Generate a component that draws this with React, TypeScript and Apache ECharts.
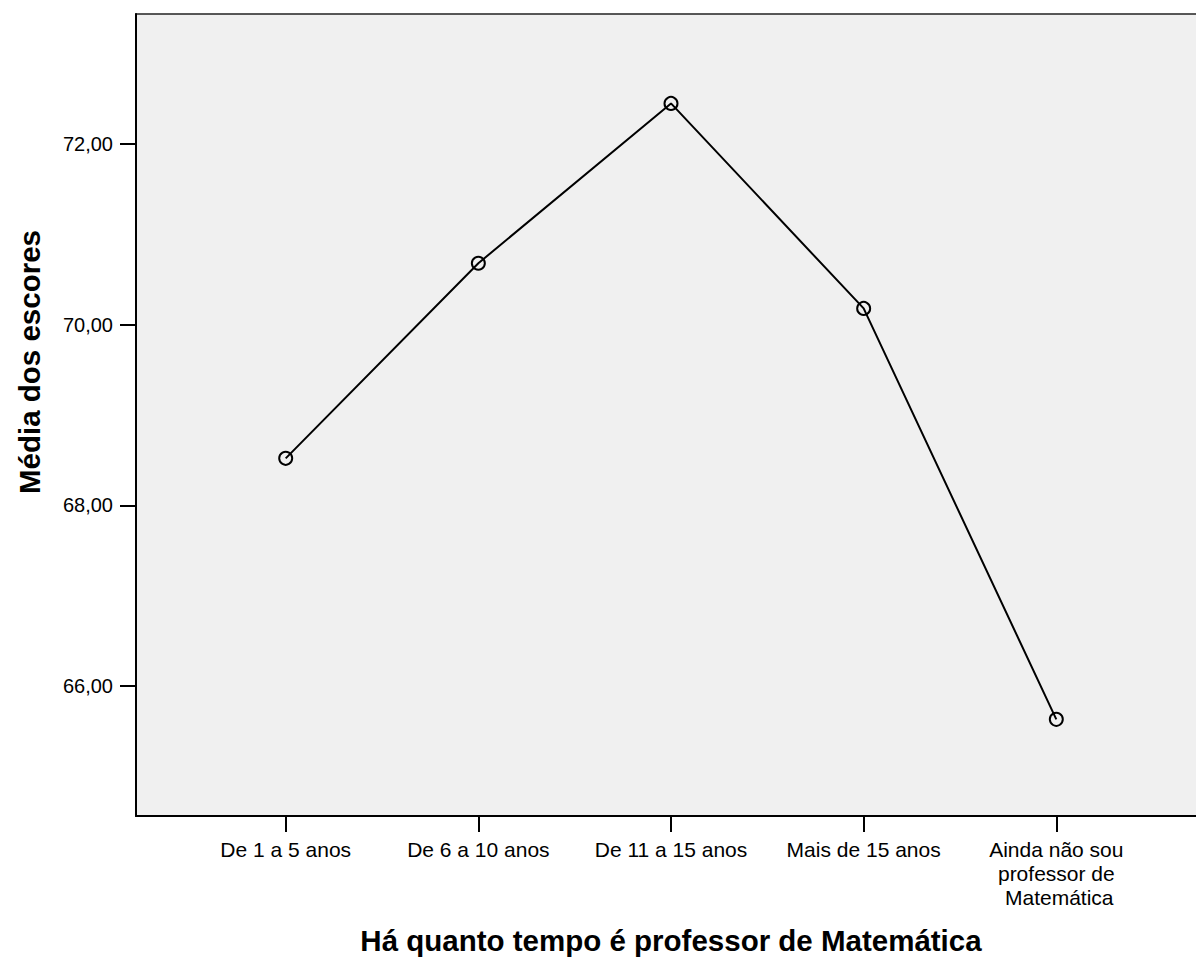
import React, { useEffect, useRef } from "react";
import * as echarts from "echarts";

const categories: string[] = [
  "De 1 a 5 anos",
  "De 6 a 10 anos",
  "De 11 a 15 anos",
  "Mais de 15 anos",
  "Ainda não sou\nprofessor de\n Matemática",
];
const meanScores: number[] = [68.52, 70.68, 72.45, 70.18, 65.63];
const yTicks: number[] = [66, 68, 70, 72];
const xTicks: number[] = [0, 1, 2, 3, 4];

const xTitle = "Há quanto tempo é professor de Matemática";
const yTitle = "Média dos escores";

const FONT = '"Liberation Sans", Arial, Helvetica, sans-serif';

export default function App() {
  const ref = useRef<HTMLDivElement>(null);

  useEffect(() => {
    if (!ref.current) return;
    const chart = echarts.init(ref.current, undefined, { renderer: "svg" });
    const option: any = {
      animation: false,
      backgroundColor: "#ffffff",
      textStyle: { fontFamily: FONT, color: "#000" },
      grid: {
        left: 136,
        top: 14,
        right: 10,
        bottom: 143,
        show: true,
        backgroundColor: "#F0F0F0",
        borderColor: "#222",
        borderWidth: 1.5,
      },
      graphic: [
        {
          type: "text",
          x: 29,
          y: 362,
          rotation: Math.PI / 2,
          style: {
            text: yTitle,
            fontSize: 29.5,
            fontWeight: "bold",
            fontFamily: FONT,
            fill: "#000",
            align: "center",
            verticalAlign: "middle",
          },
        },
      ],
      xAxis: {
        type: "value",
        min: -0.777,
        max: 4.777,
        name: xTitle,
        nameLocation: "middle",
        nameGap: 109,
        nameTextStyle: { fontSize: 29.5, fontWeight: "bold", color: "#000", fontFamily: FONT },
        axisLine: { show: true, onZero: false, lineStyle: { color: "#000", width: 2 } },
        axisTick: { show: true, length: 16, customValues: xTicks, lineStyle: { color: "#000", width: 2 } },
        axisLabel: {
          customValues: xTicks,
          formatter: (v: number) => categories[Math.round(v)] ?? "",
          margin: 21,
          fontSize: 21,
          lineHeight: 24,
          color: "#000",
          fontFamily: FONT,
          align: "center",
        },
        splitLine: { show: false },
      },
      yAxis: {
        type: "value",
        min: 64.56,
        max: 73.44,
        axisLine: { show: true, onZero: false, lineStyle: { color: "#000", width: 2 } },
        axisTick: { show: true, length: 16, customValues: yTicks, lineStyle: { color: "#000", width: 2 } },
        axisLabel: {
          customValues: yTicks,
          formatter: (v: number) => v.toFixed(2).replace(".", ","),
          margin: 23,
          fontSize: 20,
          color: "#000",
          fontFamily: FONT,
        },
        splitLine: { show: false },
      },
      series: [
        {
          type: "line",
          data: meanScores.map((v, i) => [i, v]),
          symbol: "circle",
          symbolSize: 13,
          itemStyle: { color: "transparent", borderColor: "#000", borderWidth: 2 },
          lineStyle: { color: "#000", width: 2 },
          z: 3,
        },
      ],
    };
    chart.setOption(option);
    return () => chart.dispose();
  }, []);

  return (
    <div
      style={{
        position: "absolute",
        left: 0,
        top: 0,
        width: 1196,
        height: 960,
        overflow: "hidden",
        background: "#fff",
      }}
    >
      <div ref={ref} style={{ width: 1216, height: 960 }} />
    </div>
  );
}
